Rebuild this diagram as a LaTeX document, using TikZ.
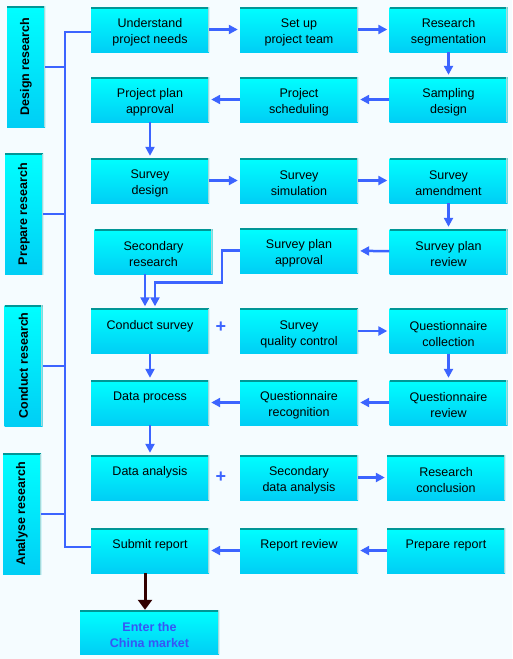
\documentclass[tikz,border=0pt]{standalone}
\usepackage{fontspec}
\setmainfont{Liberation Sans}
\usetikzlibrary{arrows.meta}
\definecolor{bgblue}{RGB}{245,252,255}
\definecolor{boxtop}{RGB}{0,255,255}
\definecolor{boxbot}{RGB}{0,206,245}
\definecolor{boxedge}{RGB}{0,150,150}
\definecolor{flowblue}{RGB}{60,100,255}
\definecolor{marketblue}{RGB}{55,85,245}
\definecolor{darkbrown}{RGB}{50,0,0}
\begin{document}
\begin{tikzpicture}[x=1pt,y=-1pt,
	box/.style={minimum width=118pt,minimum height=45pt,inner sep=0pt,align=center,text height=31pt,
		top color=boxtop,bottom color=boxbot,font=\fontsize{12.5}{16}\selectfont,
		path picture={\draw[boxedge,line width=3pt] (path picture bounding box.north west) -- (path picture bounding box.north east);
			\draw[boxedge!35,line width=2.5pt] (path picture bounding box.north east) -- (path picture bounding box.south east);}},
	oneline/.style={text height=14pt,text depth=18pt},
	stage/.style={box,text height=,minimum width=38pt,minimum height=121pt,font=\bfseries\fontsize{12.5}{16}\selectfont},
	plus/.style={text=flowblue,font=\bfseries\fontsize{18}{18}\selectfont},
	arr/.style={flowblue,line width=2.5pt,shorten >=2pt,-{Triangle[length=9pt,width=9pt]}},
	bus/.style={flowblue,line width=2pt},
	darkarr/.style={darkbrown,line width=3pt,-{Triangle[length=10pt,width=14pt]}}]
		\fill[bgblue] (0,0) rectangle (512,659);
		% stages
		\node[stage] (design) at (26,66.5) {\rotatebox{90}{Design research}};
		\node[stage] (prepare) at (24,214) {\rotatebox{90}{Prepare research}};
		\node[stage] (conduct) at (23.5,365.5) {\rotatebox{90}{Conduct research}};
		\node[stage] (analyse) at (22,514) {\rotatebox{90}{Analyse research}};
		% steps
		\node[box] (needs) at (150,29.5) {Understand\\project needs};
		\node[box] (team) at (299,29.5) {Set up\\project team};
		\node[box] (segment) at (448.5,29.5) {Research\\segmentation};
		\node[box] (planappr) at (150,99.5) {Project plan\\approval};
		\node[box] (sched) at (299,99.5) {Project\\scheduling};
		\node[box] (sampling) at (448.5,99.5) {Sampling\\design};
		\node[box] (sdesign) at (150,180.5) {Survey\\design};
		\node[box] (ssim) at (299,180.5) {Survey\\simulation};
		\node[box] (samend) at (448.5,180.5) {Survey\\amendment};
		\node[box] (secres) at (153.5,251.5) {Secondary\\research};
		\node[box] (sappr) at (299,250.5) {Survey plan\\approval};
		\node[box] (sreview) at (448.5,251.5) {Survey plan\\review};
		\node[box,oneline] (csurvey) at (150,331) {Conduct survey};
		\node[box] (quality) at (299,331) {Survey\\quality control};
		\node[box] (qcollect) at (448.5,331) {Questionnaire\\collection};
		\node[box,oneline] (dprocess) at (150,402.5) {Data process};
		\node[box] (qrecog) at (299,402.5) {Questionnaire\\recognition};
		\node[box] (qreview) at (448.5,402.5) {Questionnaire\\review};
		\node[box,oneline] (danalysis) at (150,477.5) {Data analysis};
		\node[box] (secdata) at (299,477.5) {Secondary\\data analysis};
		\node[box] (concl) at (446,477.5) {Research\\conclusion};
		\node[box,oneline] (submit) at (150,550.5) {Submit report};
		\node[box,oneline] (rreview) at (299,550.5) {Report review};
		\node[box,oneline] (preport) at (446,550.5) {Prepare report};
		\node[box,minimum width=139pt,minimum height=44pt,text=marketblue,
			font=\bfseries\fontsize{12.5}{16}\selectfont] (market) at (149.5,632) {Enter the\\China market};
		\node[plus] (plus1) at (221,327) {+};
		\node[plus] (plus2) at (221,477) {+};
		% bus
		\coordinate (bustop) at (65,32);
		\coordinate (busbot) at (65,547);
		\draw[bus] (needs.west |- bustop) -- (bustop) -- (busbot) -- (submit.west |- busbot);
		\draw[bus] (design.east) -- (design.east -| bustop);
		\draw[bus] (prepare.east) -- (prepare.east -| bustop);
		\draw[bus] (conduct.east) -- (conduct.east -| bustop);
		\draw[bus] (analyse.east) -- (analyse.east -| bustop);
		% flow
		\draw[arr] (needs) -- (team);
		\draw[arr] (team) -- (segment);
		\draw[arr] (segment) -- (sampling);
		\draw[arr] (sampling) -- (sched);
		\draw[arr] (sched) -- (planappr);
		\draw[arr] (planappr) -- (sdesign);
		\draw[arr] (sdesign) -- (ssim);
		\draw[arr] (ssim) -- (samend);
		\draw[arr] (samend) -- (sreview);
		\draw[arr] (sreview) -- (sappr);
		\draw[arr] ([xshift=-5pt]csurvey.north |- secres.south) -- ([xshift=-5pt]csurvey.north);
		\draw[arr] (sappr.west) -- ++(-18,0) |- ([xshift=5pt,yshift=26pt]csurvey.north) -- ([xshift=5pt]csurvey.north);
		\draw[arr] (quality) -- (qcollect);
		\draw[arr] (qcollect) -- (qreview);
		\draw[arr] (qreview) -- (qrecog);
		\draw[arr] (qrecog) -- (dprocess);
		\draw[arr] (csurvey) -- (dprocess);
		\draw[arr] (dprocess) -- (danalysis);
		\draw[arr] (secdata) -- (concl);
		\draw[arr] (preport) -- (rreview);
		\draw[arr] (rreview) -- (submit);
		\draw[darkarr] ([xshift=-5pt]submit.south) -- ([xshift=-5pt]submit.south |- market.north);
	\end{tikzpicture}
\end{document}
